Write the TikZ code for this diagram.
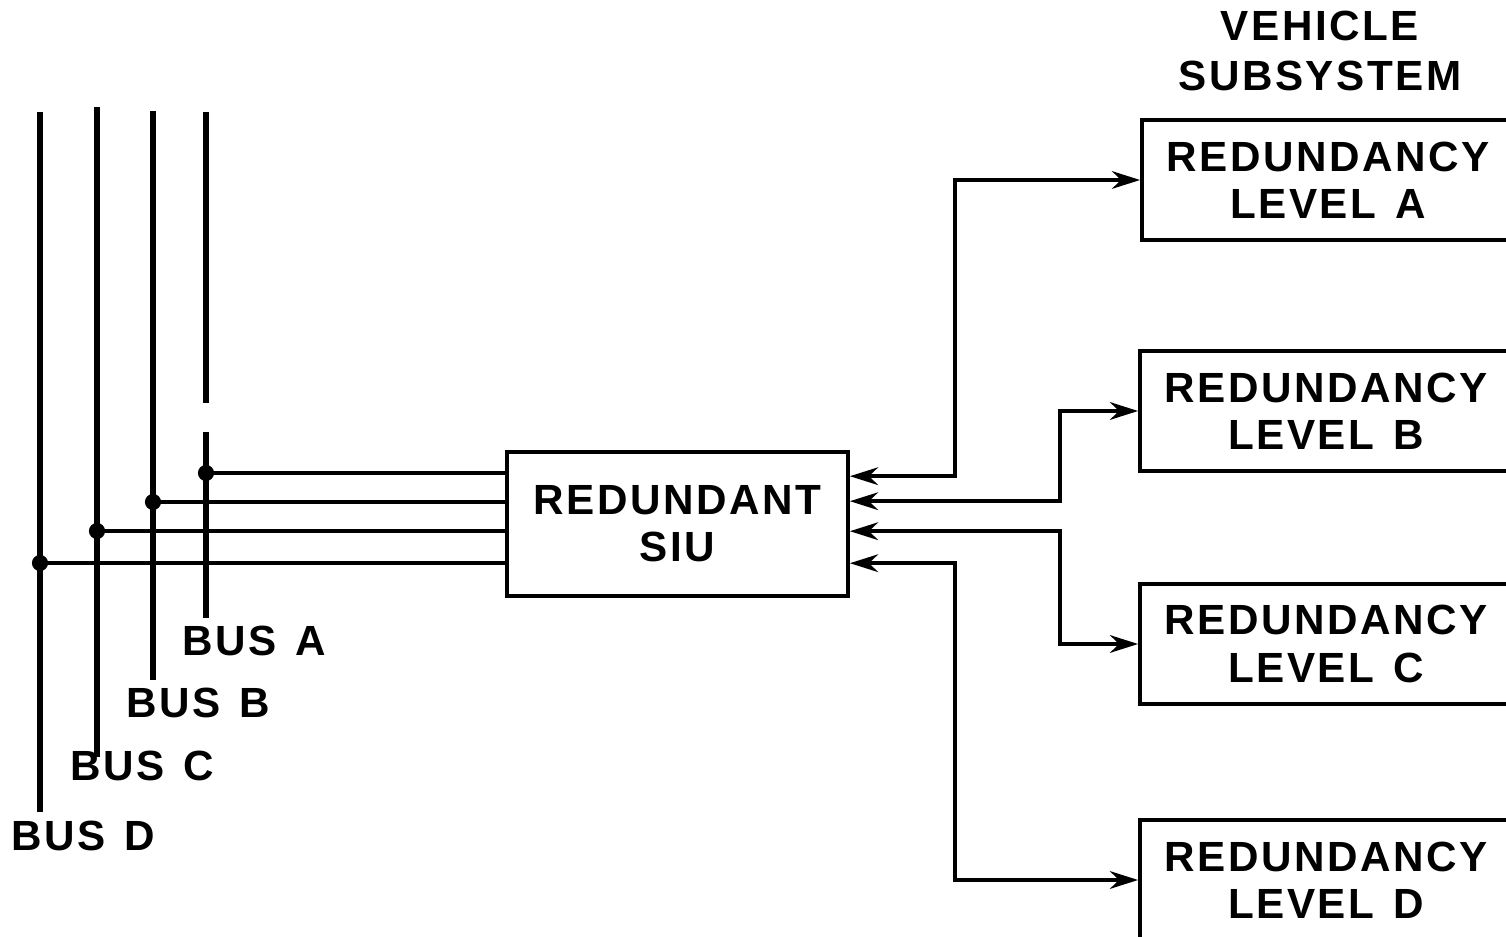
\documentclass[tikz,border=0pt]{standalone}
\usepackage{fontspec}
\setmainfont{Liberation Sans}
\newfontfamily\diagfont[LetterSpace=6]{Liberation Sans}
\usetikzlibrary{arrows.meta,positioning,calc}

\newcommand{\gap}{\hspace{0.45em}}
\tikzset{
	bus/.style={line width=1.5pt},
	tap/.style={line width=1.25pt},
	link/.style={line width=1.25pt,{Stealth[length=8pt,width=5pt]}-{Stealth[length=8pt,width=5pt]}},
	txt/.style={align=center,inner sep=0pt,font=\diagfont\bfseries\fontsize{12}{13.4}\selectfont},
	unit/.style={txt,draw,line width=1pt,minimum width=3.72cm,minimum height=1.2cm}
}

\begin{document}
\begin{tikzpicture}[x=0.01cm,y=-0.01cm]
	\useasboundingbox (0,0) rectangle (1506,937);
	\clip (0,0) rectangle (1506,937);
	% boxes
	\node[unit,minimum width=3.41cm,minimum height=1.44cm] (siu) at (677.5,524) {REDUNDANT\\SIU};
	\node[unit] (lvlA) at (1328,180) {REDUNDANCY\\LEVEL\gap A};
	\node[unit] (lvlB) at (1326,411) {REDUNDANCY\\LEVEL\gap B};
	\node[unit] (lvlC) at (1326,644) {REDUNDANCY\\LEVEL\gap C};
	\node[unit] (lvlD) at (1326,880) {REDUNDANCY\\LEVEL\gap D};
	\node[txt,font=\diagfont\bfseries\fontsize{12}{14}\selectfont] (title) at (1320,51) {VEHICLE\\SUBSYSTEM};
	% bus labels
	\node[txt] (busA) at (254,641) {BUS\gap A};
	\node[txt] (busB) at (198,703) {BUS\gap B};
	\node[txt] (busC) at (142,766) {BUS\gap C};
	\node[txt] (busD) at (83,836) {BUS\gap D};
	% bus lines
	\coordinate (tapA) at (206,473);
	\coordinate (tapB) at (153,502);
	\coordinate (tapC) at (97,531);
	\coordinate (tapD) at (40,563);
	\draw[bus] (tapD |- 0,112) -- (tapD |- 0,812);
	\draw[bus] (tapC |- 0,107) -- (tapC |- 0,757);
	\draw[bus] (tapB |- 0,111) -- (tapB |- 0,680);
	\draw[bus] (tapA |- 0,112) -- (tapA |- 0,403);
	\draw[bus] (tapA |- 0,432) -- (tapA |- 0,618);
	% taps into the SIU
	\foreach \t in {tapA,tapB,tapC,tapD}{
		\draw[tap] (\t) -- (siu.west |- \t);
		\fill (\t) circle (2.3pt);
	}
	% links to the subsystems
	\coordinate (pA) at ($(siu.north east)+(0,26)$);
	\coordinate (pB) at ($(siu.north east)+(0,51)$);
	\coordinate (pC) at ($(siu.north east)+(0,81)$);
	\coordinate (pD) at ($(siu.north east)+(0,113)$);
	\draw[link] (pA) -- ++(105,0) |- (lvlA.west);
	\draw[link] (pB) -- ++(210,0) |- (lvlB.west);
	\draw[link] (pC) -- ++(210,0) |- (lvlC.west);
	\draw[link] (pD) -- ++(105,0) |- (lvlD.west);
\end{tikzpicture}
\end{document}
